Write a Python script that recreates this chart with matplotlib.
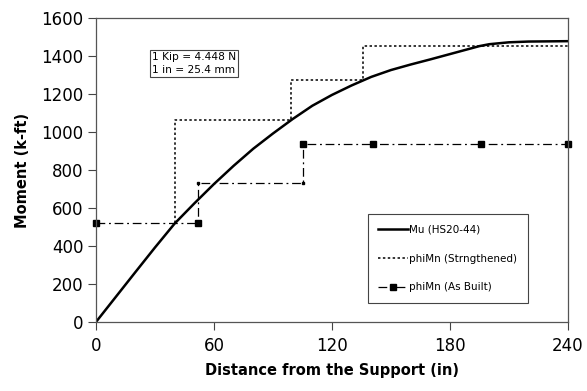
import matplotlib.pyplot as plt

# Mu (HS20-44) moment envelope
mu_x = [0, 10, 20, 30, 40, 50, 60, 70, 80, 90, 100, 110, 120, 130, 140, 150, 160, 170, 180, 190, 195, 200, 210, 220, 240]
mu_y = [0, 131, 262, 392, 518, 624, 726, 822, 912, 992, 1068, 1138, 1195, 1245, 1290, 1326, 1355, 1382, 1410, 1438, 1452, 1462, 1472, 1476, 1478]

# phiMn strengthened (step)
st_x = [40, 40, 99, 99, 136, 136, 240]
st_y = [520, 1065, 1065, 1275, 1275, 1452, 1452]

# phiMn as built (step)
ab_x = [0, 52, 52, 105.5, 105.5, 141, 196, 240]
ab_y = [520, 520, 733, 733, 937, 937, 937, 937]
ab_big = [0, 1, 4, 5, 6, 7]
ab_small = [2, 3]

fig = plt.figure(figsize=(5.87, 3.91), dpi=100)
ax = fig.add_axes([0.1635, 0.1765, 0.804, 0.7775])

ax.plot(mu_x, mu_y, color='black', lw=1.8, label='Mu (HS20-44)')
ax.plot(st_x, st_y, color='black', lw=1.1, dashes=(1.6, 1.6), label='phiMn (Strngthened)')
ax.plot(ab_x, ab_y, color='black', lw=0.9, dashes=(7, 3, 1.5, 3),
        marker='s', markersize=4, markevery=ab_big, label='phiMn (As Built)', clip_on=False)
ax.plot([ab_x[i] for i in ab_small], [ab_y[i] for i in ab_small], 's',
        color='black', markersize=2)

ax.set_xlim(0, 240)
ax.set_ylim(0, 1600)
ax.set_xticks([0, 60, 120, 180, 240])
ax.set_yticks(range(0, 1601, 200))
ax.tick_params(labelsize=12, length=5.5, width=0.8, colors='#444444', labelcolor='black')
ax.tick_params(axis='x', pad=5)
for s in ax.spines.values():
    s.set_color('#555555')
    s.set_linewidth(0.9)

ax.set_xlabel('Distance from the Support (in)', fontsize=10.5, fontweight='bold', labelpad=6)
ax.set_ylabel('Moment (k-ft)', fontsize=10.5, fontweight='bold', labelpad=8)

ax.text(28.5, 1420, '1 Kip = 4.448 N\n1 in = 25.4 mm', fontsize=7.7, va='top', ha='left',
        linespacing=1.3,
        bbox=dict(boxstyle='square,pad=0.2', facecolor='white', edgecolor='#444444', lw=0.8))

leg = ax.legend(loc='lower right', bbox_to_anchor=(0.926, 0.046), fontsize=7.5,
                frameon=True, fancybox=False, edgecolor='#444444', framealpha=1,
                handlelength=2.9, handletextpad=0.1, labelspacing=1.8, borderpad=1.0)
leg.get_frame().set_linewidth(0.8)

fig.savefig('out.png', dpi=100)
